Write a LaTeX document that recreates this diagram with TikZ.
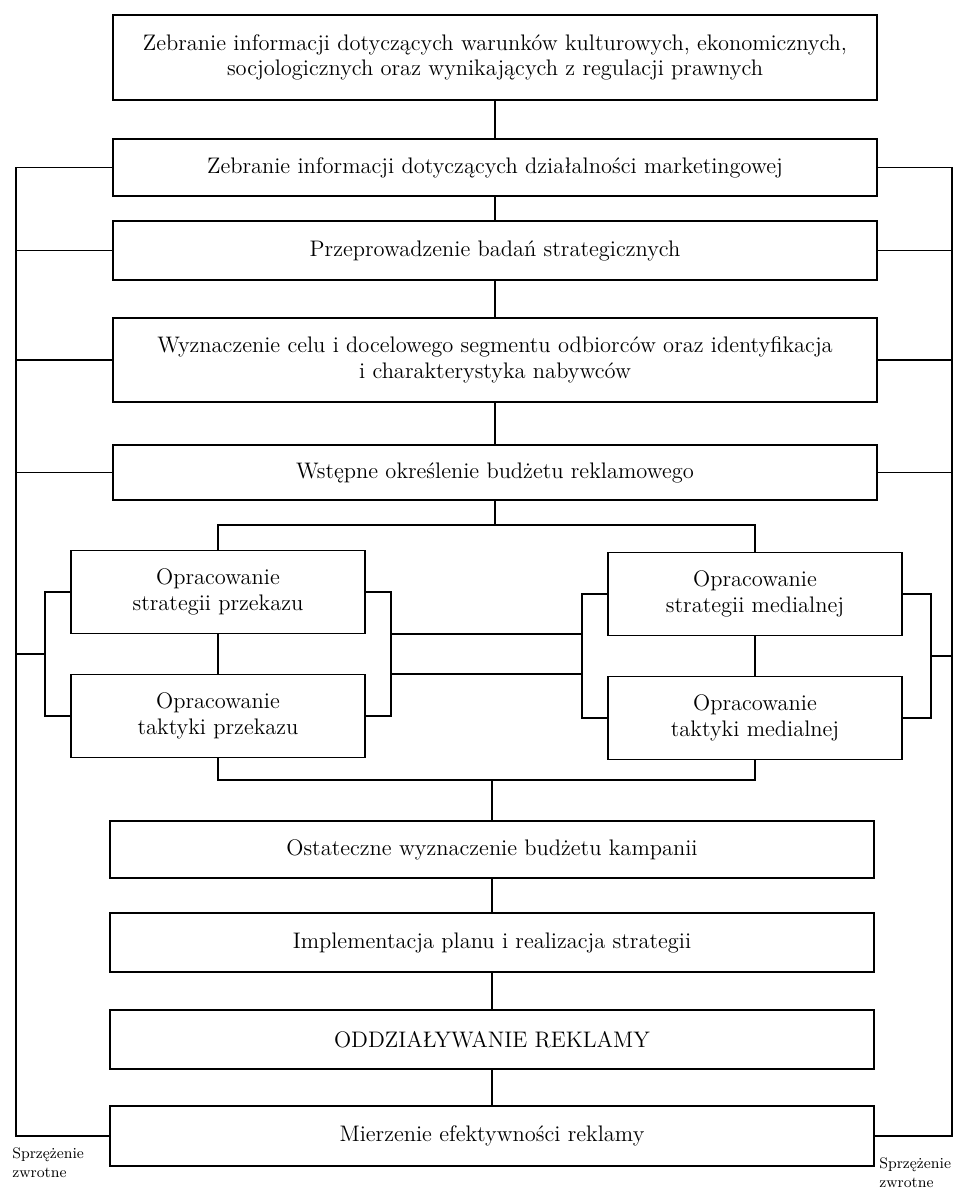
\documentclass[tikz,border=0pt]{standalone}
\usepackage{fontspec}
\usepackage{tikz}
\usetikzlibrary{calc}

\begin{document}
\begin{tikzpicture}[x=0.02cm, y=-0.02cm,
    mainbox/.style={draw, line width=1.1pt, minimum width=15.28cm, align=center,
        font=\fontsize{12.8}{14.5}\selectfont, inner sep=2pt},
    subbox/.style={draw, line width=1.1pt, minimum width=5.88cm, minimum height=1.66cm,
        align=center, font=\fontsize{12.8}{14.5}\selectfont, inner sep=2pt},
    link/.style={line width=0.9pt},
    note/.style={font=\fontsize{8.7}{10.8}\selectfont, align=left, anchor=north west, inner sep=0pt}]
    \useasboundingbox (0,0) rectangle (957,1189);

    % Main chain (upper part)
    \node[mainbox, minimum height=1.7cm] (zbr1) at (495,57.5)
        {Zebranie informacji dotyczących warunków kulturowych, ekonomicznych,\\
         socjologicznych oraz wynikających z regulacji prawnych};
    \node[mainbox, minimum height=1.14cm] (zbr2) at (495,167.5)
        {Zebranie informacji dotyczących działalności marketingowej};
    \node[mainbox, minimum height=1.18cm] (badan) at (495,250.5)
        {Przeprowadzenie badań strategicznych};
    \node[mainbox, minimum height=1.68cm] (cel) at (495,360)
        {Wyznaczenie celu i docelowego segmentu odbiorców oraz identyfikacja\\
         i charakterystyka nabywców};
    \node[mainbox, minimum height=1.1cm] (budzet) at (495,472.5)
        {Wstępne określenie budżetu reklamowego};

    % Strategy and tactics boxes
    \node[subbox] (strL) at (218,592) {Opracowanie\\strategii przekazu};
    \node[subbox] (takL) at (218,716) {Opracowanie\\taktyki przekazu};
    \node[subbox] (strR) at (755,594) {Opracowanie\\strategii medialnej};
    \node[subbox] (takR) at (755,718) {Opracowanie\\taktyki medialnej};

    % Main chain (lower part)
    \node[mainbox, minimum height=1.14cm] (ostat) at (492,849.5)
        {Ostateczne wyznaczenie budżetu kampanii};
    \node[mainbox, minimum height=1.18cm] (impl) at (492,942.5)
        {Implementacja planu i realizacja strategii};
    \node[mainbox, minimum height=1.18cm] (oddz) at (492,1039.5)
        {ODDZIAŁYWANIE REKLAMY};
    \node[mainbox, minimum height=1.2cm] (mierz) at (492,1136)
        {Mierzenie efektywności reklamy};

    % Feedback labels
    \node[note] (sprzL) at (12,1147) {Sprzężenie\\zwrotne};
    \node[note] (sprzR) at (879,1157) {Sprzężenie\\zwrotne};

    % Vertical links
    \foreach \a/\b in {zbr1/zbr2, zbr2/badan, badan/cel, cel/budzet,
                       strL/takL, strR/takR, ostat/impl, impl/oddz, oddz/mierz} {
        \draw[link] (\a.south) -- (\b.north);
    }

    % Split into the two strategies
    \draw[link] (budzet.south) -- ++(0,24) coordinate (split);
    \draw[link] (strL.north) |- (split) -| (strR.north);
    % Join back
    \coordinate (join) at ($(ostat.north)+(0,-40)$);
    \draw[link] (takL.south) |- (join) -| (takR.south);
    \draw[link] (join) -- (ostat.north);

    % Side brackets
    \path (strL.west) ++(-25,0) coordinate (llT);
    \path (takL.west) ++(-25,0) coordinate (llB);
    \path (strL.east) ++(25,0) coordinate (lrT);
    \path (takL.east) ++(25,0) coordinate (lrB);
    \path (strR.west) ++(-25,0) coordinate (rlT);
    \path (takR.west) ++(-25,0) coordinate (rlB);
    \path (strR.east) ++(28,0) coordinate (rrT);
    \path (takR.east) ++(28,0) coordinate (rrB);
    \draw[link] (strL.west) -- (llT) -- (llB) -- (takL.west);
    \draw[link] (strL.east) -- (lrT) -- (lrB) -- (takL.east);
    \draw[link] (strR.west) -- (rlT) -- (rlB) -- (takR.west);
    \draw[link] (strR.east) -- (rrT) -- (rrB) -- (takR.east);
    \coordinate (llM) at ($(llT)!0.5!(llB)$);
    \coordinate (rrM) at ($(rrT)!0.5!(rrB)$);

    % Double link between the brackets
    \draw[link] ($(lrT)!0.34!(lrB)$) coordinate (mid1) -- (mid1 -| rlT);
    \draw[link] ($(lrT)!0.66!(lrB)$) coordinate (mid2) -- (mid2 -| rlT);

    % Feedback lines
    \coordinate (fbL) at (16,0);
    \coordinate (fbR) at (952,0);
    \draw[link] (zbr2.west) -- (fbL |- zbr2.west) -- (fbL |- mierz.west) -- (mierz.west);
    \draw[link] (zbr2.east) -- (fbR |- zbr2.east) -- (fbR |- mierz.east) -- (mierz.east);
    \foreach \n in {badan, cel, budzet} {
        \draw[link] (\n.west) -- (fbL |- \n.west);
        \draw[link] (\n.east) -- (fbR |- \n.east);
    }
    \draw[link] (llM) -- (fbL |- llM);
    \draw[link] (rrM) -- (fbR |- rrM);
\end{tikzpicture}
\end{document}
